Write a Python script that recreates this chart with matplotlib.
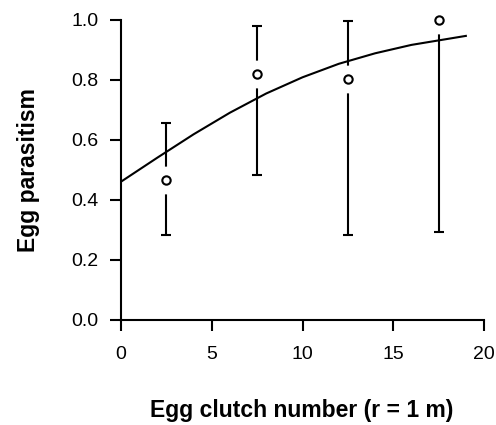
import matplotlib
matplotlib.use('Agg')
import matplotlib.pyplot as plt
import numpy as np

plt.rcParams['font.family'] = ['Liberation Sans', 'DejaVu Sans']

# observed means with error bars
clutch_x = [2.5, 7.5, 12.5, 17.5]
parasitism = [0.467, 0.82, 0.802, 1.0]
err_low = [0.284, 0.484, 0.284, 0.294]
err_high = [0.657, 0.98, 0.997, 1.0]

# fitted curve
fit_x = [0, 2, 4, 6, 8, 10, 12, 14, 16, 19]
fit_y = [0.461, 0.541, 0.619, 0.691, 0.755, 0.809, 0.854, 0.889, 0.917, 0.947]

xticks = [0, 5, 10, 15, 20]
yticks = [0.0, 0.2, 0.4, 0.6, 0.8, 1.0]

fig = plt.figure(figsize=(4.96, 4.25), dpi=100)
ax = fig.add_axes([121/496, 1 - 320/425, 363/496, 300/425])

y = np.array(parasitism)
yerr = [y - np.array(err_low), np.array(err_high) - y]
ax.errorbar(clutch_x, y, yerr=yerr, fmt='none', ecolor='black',
            elinewidth=1.5, capsize=3.5, capthick=1.5, zorder=2, clip_on=False)
# white halo around the points so the bars stop short of them
ax.plot(clutch_x, y, 'o', ms=19, mfc='white', mec='white', zorder=3, clip_on=False)
ax.plot(fit_x, fit_y, '-', color='black', lw=1.5, zorder=4)
ax.plot(clutch_x, y, 'o', ms=6, mfc='white', mec='black', mew=1.5, zorder=5, clip_on=False)

ax.set_xlim(0, 20)
ax.set_ylim(0, 1)
ax.set_xticks(xticks)
ax.set_yticks(yticks)
ax.set_yticklabels(['%.1f' % v for v in yticks])
for s in ['top', 'right']:
    ax.spines[s].set_visible(False)
for s in ['left', 'bottom']:
    ax.spines[s].set_linewidth(1.5)
ax.tick_params(axis='both', direction='out', length=8, width=1.5, labelsize=14)
ax.tick_params(axis='y', pad=8)
ax.tick_params(axis='x', pad=11)

ax.set_xlabel('Egg clutch number (r = 1 m)', fontsize=16.5, fontweight='bold')
ax.set_ylabel('Egg parasitism', fontsize=16.5, fontweight='bold')
ax.xaxis.set_label_coords(0.499, -0.30)
ax.xaxis.label.set_verticalalignment('center')
ax.yaxis.set_label_coords((28 - 121)/363, 0.5)
ax.yaxis.label.set_verticalalignment('center')

fig.savefig('out.png', dpi=100)
